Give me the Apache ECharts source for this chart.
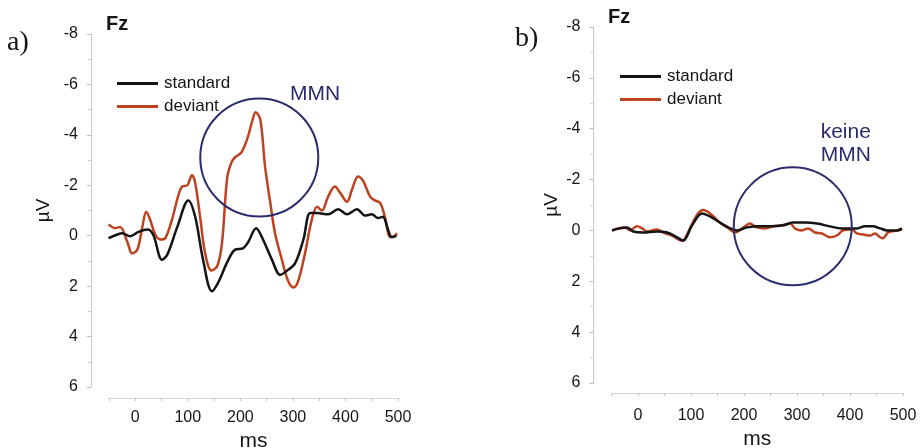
<!DOCTYPE html>
<html><head><meta charset="utf-8">
<script src="https://cdn.jsdelivr.net/npm/echarts@6/dist/echarts.min.js"></script>
<style>html,body{margin:0;padding:0;background:#fff}#c{width:921px;height:448px}</style>
</head><body><div id="c"></div>
<script>
// ---- data ----
const seriesNames = ['standard', 'deviant'];
const xTickLabels = [0, 100, 200, 300, 400, 500];
const yTickLabels = [-8, -6, -4, -2, 0, 2, 4, 6];

// panel a) standard
const aStdTime = [-51,-34,-25,-10,6,23,34,51,61,80,101,114,129,146,158,175,190,205,215,230,243,260,276,288,304,320,333,346,367,386,403,422,437,450,462,471,481,488,497];
const aStdVal  = [0.1,-0.05,-0.1,0.02,-0.15,-0.25,-0.05,0.95,0.75,-0.35,-1.4,-0.75,0.95,2.2,1.85,1.05,0.55,0.5,0.25,-0.3,0.15,0.95,1.55,1.4,1.1,0.15,-0.9,-0.9,-0.85,-1.05,-0.85,-1.05,-0.8,-0.85,-0.7,-0.75,-0.25,0.05,0];
// panel a) deviant
const aDevTime = [-51,-38,-29,-15,-6,4,13,21,28,38,48,57,70,82,89,99,108,114,124,133,145,156,165,175,184,192,202,214,222,229,238,247,257,266,279,291,301,310,323,336,346,355,367,380,390,403,412,424,433,447,456,466,475,485,490,498];
const aDevVal  = [-0.45,-0.3,-0.35,0.25,0.7,0.55,-0.3,-0.95,-0.65,-0.05,0.15,0.1,-0.65,-1.6,-1.95,-2.0,-2.4,-2.1,-0.65,0.7,1.38,1.2,0.3,-2.3,-2.95,-3.15,-3.3,-3.9,-4.5,-4.9,-4.6,-2.75,-1.3,-0.1,0.95,1.8,2.05,1.8,0.7,-0.65,-1.15,-1.0,-1.55,-1.95,-1.7,-1.35,-1.8,-2.35,-2.2,-1.55,-1.4,-1.3,-0.75,0.05,0.05,-0.1];

// panel b) standard
const bStdTime = [-49,-34,-21,-9,9,36,55,74,85,102,121,136,155,174,187,206,230,249,274,292,315,338,362,385,400,413,428,443,457,470,489,498];
const bStdVal  = [0,-0.08,-0.12,0.04,0.08,0.04,0.08,0.27,0.4,-0.2,-0.67,-0.55,-0.3,-0.08,0,-0.12,-0.16,-0.16,-0.2,-0.31,-0.31,-0.27,-0.16,-0.08,-0.08,-0.08,-0.16,-0.16,-0.08,0,0,-0.08];
// panel b) deviant
const bDevTime = [-49,-38,-25,-15,-2,8,17,36,47,64,83,89,111,123,136,155,170,183,198,211,224,240,255,272,287,296,309,321,334,347,362,375,387,404,413,425,438,447,457,462,472,489,498];
const bDevVal  = [0,-0.08,-0.12,0,-0.16,-0.08,0.04,-0.04,0.08,0.2,0.4,0.3,-0.6,-0.8,-0.67,-0.3,-0.1,0.08,-0.1,-0.27,-0.12,-0.08,-0.16,-0.2,-0.27,-0.08,0,-0.08,0.08,0.12,0.27,0.2,0,-0.04,0.12,0.16,0.2,0.12,0.27,0.31,0.08,0,-0.04];

// annotations (data coordinates)
const aCircleCenter = [236, -3.1];
const bCircleCenter = [292, -0.16];
const aNoteLines = ['MMN'];
const aNotePos = [342, -5.6];
const bNoteLines = ['keine', 'MMN'];
const bNotePos = [392, -3.4];
const panelLabels = ['a)', 'b)'];
const electrode = 'Fz';

// ---- chart ----
const COL_STD = '#141414';
const COL_DEV = '#bd4320';
const COL_NAVY = '#2b2c6e';
const FONT = 'Liberation Sans, Arial, sans-serif';

function zip(t, v) { return t.map((x, i) => [x, v[i]]); }

function xAxis(gi, offset, margin, gap) {
  return {
    type: 'value', gridIndex: gi, min: -50, max: 500, interval: 50, offset: offset, position: 'bottom',
    axisLine: { show: true, onZero: false, lineStyle: { color: '#cfcfcf', type: 'dotted', width: 1 } },
    axisTick: { show: true, length: 3, lineStyle: { color: '#c4c4c4' } },
    axisLabel: {
      margin: margin, fontSize: 16, color: '#151515', fontFamily: FONT,
      formatter: v => (xTickLabels.indexOf(v) >= 0 ? String(v) : '')
    },
    splitLine: { show: false },
    name: 'ms', nameLocation: 'middle', nameGap: gap,
    nameTextStyle: { fontSize: 21, color: '#151515', fontFamily: FONT }
  };
}
function yAxis(gi, offset, gap) {
  return {
    type: 'value', gridIndex: gi, inverse: true, min: -8, max: 6, interval: 2, offset: offset, position: 'left',
    axisLine: { show: true, onZero: false, lineStyle: { color: '#c8c8c8', width: 1 } },
    axisTick: { show: true, length: 4, lineStyle: { color: '#bdbdbd' } },
    minorTick: { show: true, splitNumber: 2, length: 3, lineStyle: { color: '#d0d0d0' } },
    axisLabel: {
      margin: 13, fontSize: 16, color: '#151515', fontFamily: FONT,
      formatter: v => (yTickLabels.indexOf(v) >= 0 ? String(v) : '')
    },
    splitLine: { show: false },
    name: 'µV', nameLocation: 'middle', nameRotate: 90, nameGap: gap,
    nameTextStyle: { fontSize: 19, color: '#151515', fontFamily: FONT }
  };
}
function lineSeries(name, data, gi, color) {
  return {
    name: name, type: 'line', xAxisIndex: gi, yAxisIndex: gi, data: data,
    showSymbol: false, symbol: 'none', smooth: 0.35, z: name === 'deviant' ? 3 : 4,
    lineStyle: { color: color, width: 2.5 }, itemStyle: { color: color },
    animation: false
  };
}
function legend(left, top) {
  return {
    left: left, top: top, orient: 'vertical', itemWidth: 41, itemHeight: 3, itemGap: 6,
    icon: 'rect', selectedMode: false, data: seriesNames,
    textStyle: { fontSize: 17, color: '#151515', fontFamily: FONT, padding: [0, 0, 0, 1] }
  };
}

const chart = echarts.init(document.getElementById('c'), null, { renderer: 'canvas' });
chart.setOption({
  backgroundColor: '#ffffff',
  animation: false,
  grid: [
    { left: 109, top: 34, width: 289, height: 353, outerBoundsMode: 'none', containLabel: false },
    { left: 611.5, top: 27, width: 291.5, height: 356, outerBoundsMode: 'none', containLabel: false }
  ],
  xAxis: [xAxis(0, 11, 12, 30), xAxis(1, 10, 15, 31)],
  yAxis: [yAxis(0, 18, 38), yAxis(1, 18, 32)],
  legend: [legend(112, 70), legend(615, 63)],
  series: [
    lineSeries(seriesNames[0], zip(aStdTime, aStdVal), 0, COL_STD),
    lineSeries(seriesNames[1], zip(aDevTime, aDevVal), 0, COL_DEV),
    lineSeries(seriesNames[0], zip(bStdTime, bStdVal), 1, COL_STD),
    lineSeries(seriesNames[1], zip(bDevTime, bDevVal), 1, COL_DEV)
  ]
});

const ca = chart.convertToPixel({ gridIndex: 0 }, aCircleCenter);
const cb = chart.convertToPixel({ gridIndex: 1 }, bCircleCenter);
const na = chart.convertToPixel({ gridIndex: 0 }, aNotePos);
const nb = chart.convertToPixel({ gridIndex: 1 }, bNotePos);
const R = 59;
chart.setOption({
  graphic: [
    { type: 'circle', shape: { cx: ca[0], cy: ca[1], r: R }, style: { fill: 'none', stroke: COL_NAVY, lineWidth: 2 }, z: 10 },
    { type: 'circle', shape: { cx: cb[0], cy: cb[1], r: R }, style: { fill: 'none', stroke: COL_NAVY, lineWidth: 2 }, z: 10 },
    { type: 'text', x: na[0], y: na[1], style: { text: aNoteLines.join('\n'), fill: COL_NAVY, font: '21px ' + FONT, align: 'center', verticalAlign: 'middle', lineHeight: 23 }, z: 10 },
    { type: 'text', x: nb[0], y: nb[1], style: { text: bNoteLines.join('\n'), fill: COL_NAVY, font: '21px ' + FONT, align: 'center', verticalAlign: 'middle', lineHeight: 23 }, z: 10 },
    { type: 'text', x: 7, y: 43, style: { text: panelLabels[0], fill: '#151515', font: '28px Liberation Serif, Times New Roman, serif', verticalAlign: 'middle' } },
    { type: 'text', x: 515, y: 39, style: { text: panelLabels[1], fill: '#151515', font: '28px Liberation Serif, Times New Roman, serif', verticalAlign: 'middle' } },
    { type: 'text', x: 106, y: 24, style: { text: electrode, fill: '#151515', font: 'bold 20px ' + FONT, verticalAlign: 'middle' } },
    { type: 'text', x: 608, y: 17, style: { text: electrode, fill: '#151515', font: 'bold 20px ' + FONT, verticalAlign: 'middle' } }
  ]
});
</script>
</body></html>
